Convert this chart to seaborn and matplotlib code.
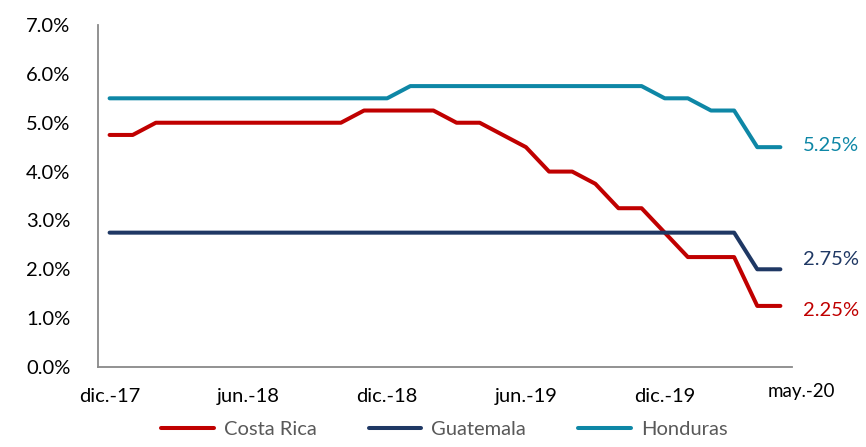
import numpy as np
import pandas as pd
import matplotlib
matplotlib.use("Agg")
import matplotlib.pyplot as plt
import seaborn as sns

# monthly policy rates (%), dic.-17 .. may.-20
costa_rica = [4.75, 4.75, 5.0, 5.0, 5.0, 5.0, 5.0, 5.0, 5.0, 5.0, 5.0, 5.25,
              5.25, 5.25, 5.25, 5.0, 5.0, 4.75, 4.5, 4.0, 4.0, 3.75, 3.25, 3.25,
              2.75, 2.25, 2.25, 2.25, 1.25, 1.25]
guatemala = [2.75] * 28 + [2.0, 2.0]
honduras = [5.5] * 13 + [5.75] * 11 + [5.5, 5.5, 5.25, 5.25, 4.5, 4.5]

countries = ["Costa Rica", "Guatemala", "Honduras"]
colors = ["#C00000", "#1F3864", "#0E87A6"]
end_labels = ["2.25%", "2.75%", "5.25%"]
tick_labels = ["dic.-17", "jun.-18", "dic.-18", "jun.-19", "dic.-19"]
last_label = "may.-20"

series = [costa_rica, guatemala, honduras]
df = pd.concat([
    pd.DataFrame({"mes": np.arange(len(v)), "tasa": v, "pais": c})
    for c, v in zip(countries, series)
])

sns.set_style("white")
plt.rcParams["font.family"] = ["Lato", "DejaVu Sans"]
fs = 14.5

fig = plt.figure(figsize=(8.66, 4.47), dpi=100)
ax = fig.add_axes([0.1132, 0.179, 0.8013, 0.765])

sns.lineplot(data=df, x="mes", y="tasa", hue="pais", palette=colors,
             linewidth=2.9, ax=ax, legend=False)

n = len(costa_rica)
ax.set_xlim(-0.5, n - 0.5)
ax.set_ylim(0, 7)
ax.set_yticks(np.arange(0, 8, 1))
ax.set_yticklabels([f"{v:.1f}%" for v in range(8)])
ax.set_xticks(np.arange(0, n, 6))
ax.set_xticklabels(tick_labels)
ax.set_xticks(np.arange(-0.5, n, 6), minor=True)
ax.tick_params(axis="x", which="major", length=0, pad=15, labelsize=fs, colors="black")
ax.tick_params(axis="x", which="minor", length=5, width=1.2, color="#898989")
ax.tick_params(axis="y", length=0, pad=20, labelsize=fs, colors="black")
ax.set_xlabel("")
ax.set_ylabel("")
for s in ["top", "right"]:
    ax.spines[s].set_visible(False)
for s in ["left", "bottom"]:
    ax.spines[s].set_color("#898989")
    ax.spines[s].set_linewidth(1.3)

offsets = [-3, 7, 1]
for vals, col, lab, dy in zip(series, colors, end_labels, offsets):
    ax.annotate(lab, xy=(n - 1, vals[-1]), xytext=(16, dy), textcoords="offset points",
                color=col, fontsize=fs, ha="left", va="center")

ax.annotate(last_label, xy=(n - 0.5, 0), xytext=(6.5, -18), textcoords="offset points",
            ha="center", va="center", fontsize=13.5, color="black", annotation_clip=False)

handles = [plt.Line2D([], [], color=c, linewidth=2.9) for c in colors]
leg = fig.legend(handles, countries, loc="lower center", ncol=3, frameon=False,
                 bbox_to_anchor=(0.513, -0.02), handlelength=2.6, handletextpad=0.5,
                 columnspacing=2.6, fontsize=fs)
for t in leg.get_texts():
    t.set_color("#595959")

fig.savefig("out.png", dpi=100)
